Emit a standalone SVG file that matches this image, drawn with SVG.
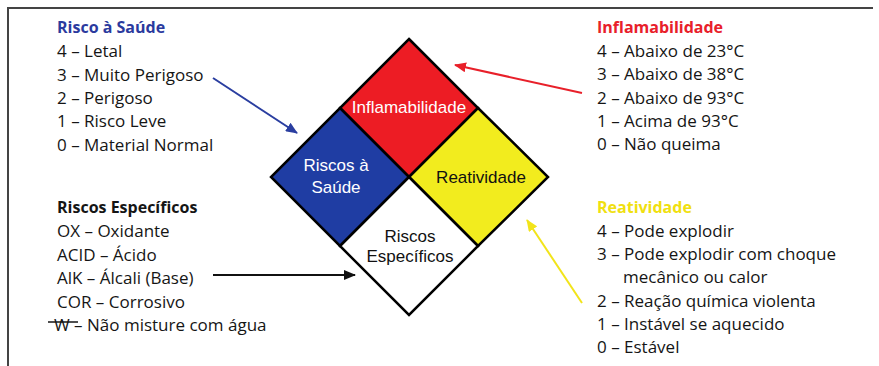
<svg xmlns="http://www.w3.org/2000/svg" width="879" height="366" viewBox="0 0 879 366">
<style>
.t{font-family:"Open Sans","Liberation Sans",sans-serif;font-size:17px;fill:#151515}
.h{font-weight:bold;font-size:16px}
.d{font-family:"Liberation Sans",Arial,sans-serif;font-size:17px;text-anchor:middle}
.q{stroke:#000;stroke-width:2.5;stroke-linejoin:miter}
</style>
<defs>
<marker id="ab" viewBox="0 0 12 10" refX="11" refY="5" markerWidth="12" markerHeight="10" markerUnits="userSpaceOnUse" orient="auto"><path d="M0,0 L12,5 L0,10 Z" fill="#2a3ea0"/></marker>
<marker id="ar" viewBox="0 0 12 10" refX="11" refY="5" markerWidth="12" markerHeight="10" markerUnits="userSpaceOnUse" orient="auto"><path d="M0,0 L12,5 L0,10 Z" fill="#e8202a"/></marker>
<marker id="ay" viewBox="0 0 12 10" refX="11" refY="5" markerWidth="12" markerHeight="10" markerUnits="userSpaceOnUse" orient="auto"><path d="M0,0 L12,5 L0,10 Z" fill="#f2e41a"/></marker>
<marker id="ak" viewBox="0 0 12 10" refX="11" refY="5" markerWidth="12" markerHeight="10" markerUnits="userSpaceOnUse" orient="auto"><path d="M0,0 L12,5 L0,10 Z" fill="#111"/></marker>
</defs>
<rect width="879" height="366" fill="#fff"/>
<g id="frame" fill="none" stroke="#444" stroke-width="2">
<path d="M8,366 L8,8 L873,8"/>
</g>
<g id="diamond">
<g id="inflamabilidade">
<path class="q" d="M409,39 L478,108 L409,177 L340,108 Z" fill="#ed1c24"/>
<text class="d" x="409" y="113" fill="#fff">Inflamabilidade</text>
</g>
<g id="saude">
<path class="q" d="M340,108 L409,177 L340,246 L271,177 Z" fill="#1f3da3"/>
<text class="d" x="336" y="171" fill="#fff">Riscos à</text>
<text class="d" x="336" y="193" fill="#fff">Saúde</text>
</g>
<g id="reatividade">
<path class="q" d="M478,108 L548,177 L478,246 L409,177 Z" fill="#f2ec1e"/>
<text class="d" x="481" y="183" fill="#111">Reatividade</text>
</g>
<g id="especificos">
<path class="q" d="M409,177 L478,246 L409,315 L340,246 Z" fill="#fff"/>
<text class="d" x="410" y="242" fill="#111">Riscos</text>
<text class="d" x="410" y="262" fill="#111">Específicos</text>
</g>
</g>
<g id="connectors" stroke-width="2" fill="none">
<line x1="213" y1="78" x2="297" y2="133" stroke="#2a3ea0" marker-end="url(#ab)"/>
<line x1="582" y1="93" x2="455" y2="65" stroke="#e8202a" marker-end="url(#ar)"/>
<line x1="582" y1="303" x2="527" y2="220" stroke="#f2e41a" marker-end="url(#ay)"/>
<line x1="213" y1="275" x2="355" y2="275" stroke="#111" marker-end="url(#ak)"/>
</g>
<g id="legend-saude">
<text class="t h" x="57" y="33" style="fill:#2b3a9e">Risco à Saúde</text>
<text class="t" x="57" y="57">4 – Letal</text>
<text class="t" x="57" y="81">3 – Muito Perigoso</text>
<text class="t" x="57" y="104">2 – Perigoso</text>
<text class="t" x="57" y="127">1 – Risco Leve</text>
<text class="t" x="57" y="151">0 – Material Normal</text>
</g>
<g id="legend-especificos">
<text class="t h" x="57" y="213">Riscos Específicos</text>
<text class="t" x="57" y="237">OX – Oxidante</text>
<text class="t" x="57" y="261">ACID – Ácido</text>
<text class="t" x="57" y="284">AlK – Álcali (Base)</text>
<text class="t" x="57" y="308">COR – Corrosivo</text>
<text class="t" x="54" y="331">W – Não misture com água</text>
<line x1="48" y1="322" x2="78" y2="322" stroke="#151515" stroke-width="1.5"/>
</g>
<g id="legend-inflamabilidade">
<text class="t h" x="597" y="33" style="fill:#e8202a">Inflamabilidade</text>
<text class="t" x="597" y="57">4 – Abaixo de 23°C</text>
<text class="t" x="597" y="80">3 – Abaixo de 38°C</text>
<text class="t" x="597" y="104">2 – Abaixo de 93°C</text>
<text class="t" x="597" y="127">1 – Acima de 93°C</text>
<text class="t" x="597" y="150">0 – Não queima</text>
</g>
<g id="legend-reatividade">
<text class="t h" x="597" y="213" style="fill:#f0e010">Reatividade</text>
<text class="t" x="597" y="237">4 – Pode explodir</text>
<text class="t" x="597" y="260">3 – Pode explodir com choque</text>
<text class="t" x="623" y="283">mecânico ou calor</text>
<text class="t" x="597" y="307">2 – Reação química violenta</text>
<text class="t" x="597" y="330">1 – Instável se aquecido</text>
<text class="t" x="597" y="353">0 – Estável</text>
</g>
</svg>
